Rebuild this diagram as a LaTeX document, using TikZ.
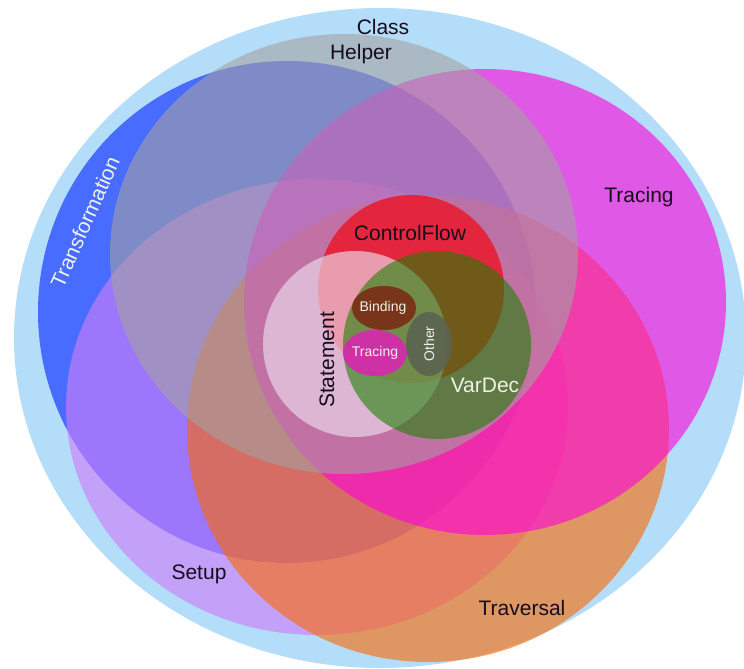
\documentclass[tikz,border=0pt]{standalone}
\usepackage{fontspec}
\setmainfont{Liberation Sans}
\definecolor{classc}{RGB}{179,221,248}
\definecolor{transc}{RGB}{72,108,255}
\definecolor{setupc}{RGB}{206,127,251}
\definecolor{travc}{RGB}{251,103,0}
\definecolor{tracc}{RGB}{255,0,219}
\definecolor{helpc}{RGB}{164,161,160}
\definecolor{cfc}{RGB}{239,13,27}
\definecolor{stmc}{RGB}{235,220,235}
\definecolor{vdc}{RGB}{28,128,0}
\definecolor{bindc}{RGB}{122,46,22}
\definecolor{trsc}{RGB}{210,45,170}
\definecolor{othc}{RGB}{92,100,80}
\definecolor{darktxt}{RGB}{22,12,30}
\definecolor{lighttxt}{RGB}{238,242,232}
\tikzset{
  biglabel/.style={font=\fontsize{21}{21}\selectfont, text=darktxt, inner sep=0pt},
  biglight/.style={biglabel, text=lighttxt},
  smalllabel/.style={font=\fontsize{14}{14}\selectfont, text=lighttxt, inner sep=0pt},
}
\begin{document}
\begin{tikzpicture}[x=1pt,y=-1pt]
\useasboundingbox (0,0) rectangle (744,669);
% sets
\fill[classc] (380,338) ellipse [x radius=366pt, y radius=330pt];
\fill[transc] (287,312) ellipse [x radius=249pt, y radius=251pt];
\fill[setupc, fill opacity=0.63] (317,407) ellipse [x radius=251pt, y radius=228pt];
\fill[travc, fill opacity=0.6] (428,429) ellipse [x radius=241pt, y radius=233pt];
\fill[tracc, fill opacity=0.6] (485,302) ellipse [x radius=241pt, y radius=233pt];
\fill[helpc, fill opacity=0.6] (344,254) ellipse [x radius=234pt, y radius=220pt];
\fill[cfc, fill opacity=0.75] (411,289) ellipse [x radius=93pt, y radius=94pt];
\fill[stmc, fill opacity=0.65] (355,344) ellipse [x radius=92pt, y radius=93pt];
\fill[vdc, fill opacity=0.58] (437,345) ellipse [x radius=94pt, y radius=94pt];
\fill[bindc, fill opacity=0.92] (384,308) ellipse [x radius=32pt, y radius=22pt];
\fill[trsc, fill opacity=0.95] (375,353) ellipse [x radius=32pt, y radius=23pt];
\fill[othc, fill opacity=0.92] (429,344) ellipse [x radius=23pt, y radius=32pt];
% labels
\node[biglabel] (lclass) at (383,27) {Class};
\node[biglabel] (lhelper) at (361,54) {Helper};
\node[biglight, rotate=66] (ltrans) at (85,222) {Transformation};
\node[biglabel] (ltracing) at (639,197) {Tracing};
\node[biglabel] (lcf) at (410,233) {ControlFlow};
\node[biglabel, rotate=90] (lstmt) at (327,360) {Statement};
\node[biglight] (lvardec) at (485,385) {VarDec};
\node[smalllabel] (lbind) at (383,308) {Binding};
\node[smalllabel] (ltrs) at (375,353) {Tracing};
\node[smalllabel, rotate=90] (lother) at (429,344) {Other};
\node[biglabel] (lsetup) at (199,574) {Setup};
\node[biglabel] (ltrav) at (522,608) {Traversal};
\end{tikzpicture}
\end{document}
